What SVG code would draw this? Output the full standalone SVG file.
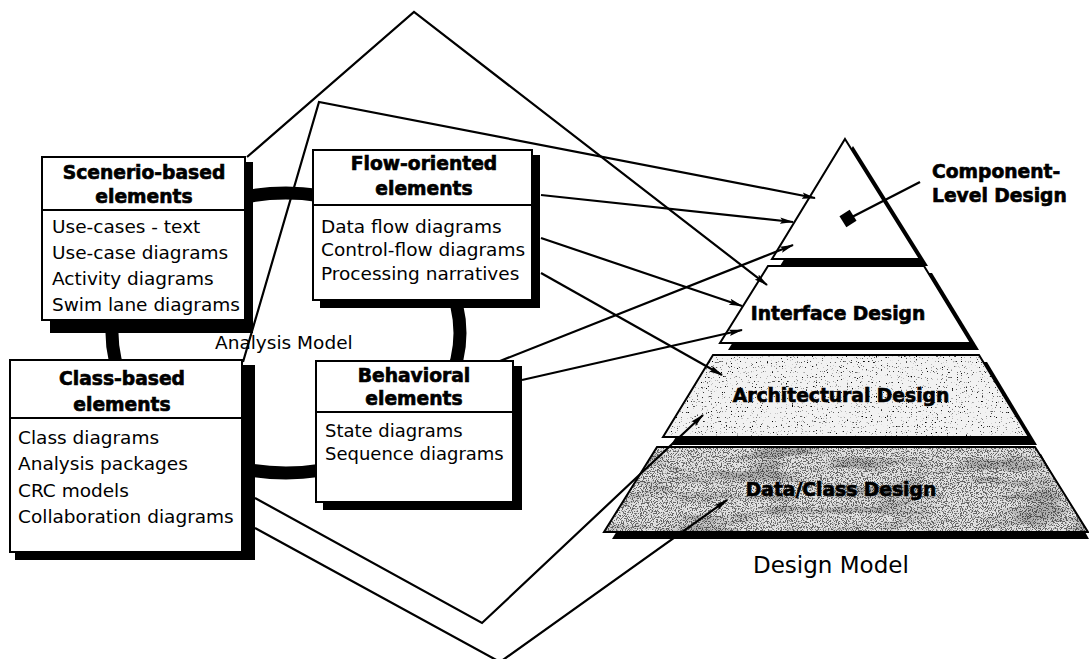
<svg xmlns="http://www.w3.org/2000/svg" width="1089" height="659" viewBox="0 0 1089 659">
  <style>
    .box { fill: #fff; stroke: #000; stroke-width: 2; }
    .shadow { fill: #000; }
    .rule { stroke: #000; stroke-width: 2; }
    .hd { font-family: "DejaVu Sans", sans-serif; font-weight: bold; font-size: 18.7px; text-anchor: middle; fill: #000; stroke: #000; stroke-width: 0.65; }
    .bd { font-family: "DejaVu Sans", sans-serif; font-size: 18.5px; fill: #000; }
    .cap { font-family: "DejaVu Sans", sans-serif; font-size: 18.5px; fill: #000; }
    .tier { stroke: #000; stroke-width: 2; }
    .edge { fill: none; stroke: #000; stroke-width: 2.2; stroke-linejoin: miter; }
    .arr { marker-end: url(#head); }
  </style>
  <defs>
    <marker id="head" markerUnits="userSpaceOnUse" markerWidth="14" markerHeight="8" refX="13" refY="4" orient="auto">
      <path d="M0,0.8 L14,4 L0,7.2 L2.5,4 z" fill="#000"/>
    </marker>
    <!-- fine grain dots, clipped to the shape they are applied to -->
    <filter id="grainDense" x="0" y="0" width="1" height="1">
      <feTurbulence type="fractalNoise" baseFrequency="0.8" numOctaves="2" seed="7" result="fine"/>
      <feColorMatrix in="fine" type="matrix" values="0 0 0 0 0  0 0 0 0 0  0 0 0 0 0  10 0 0 0 -5.0" result="dots"/>
      <feComposite in="dots" in2="SourceAlpha" operator="in"/>
    </filter>
    <!-- broad darker blotches for the bottom tier -->
    <filter id="mottle" x="0" y="0" width="1" height="1">
      <feTurbulence type="fractalNoise" baseFrequency="0.015 0.07" numOctaves="3" seed="4" result="coarse"/>
      <feColorMatrix in="coarse" type="matrix" values="0 0 0 0 0  0 0 0 0 0  0 0 0 0 0  5 0 0 0 -2.4" result="blot"/>
      <feComposite in="blot" in2="SourceAlpha" operator="in"/>
    </filter>
    <!-- light stipple for the architectural tier -->
    <filter id="grainLight" x="0" y="0" width="1" height="1">
      <feTurbulence type="fractalNoise" baseFrequency="0.8" numOctaves="1" seed="11" result="fine"/>
      <feColorMatrix in="fine" type="matrix" values="0 0 0 0 0  0 0 0 0 0  0 0 0 0 0  9 0 0 0 -5.8" result="dots"/>
      <feComposite in="dots" in2="SourceAlpha" operator="in"/>
    </filter>
  </defs>

  <rect width="1089" height="659" fill="#fff"/>

  <!-- thick ring linking the four analysis elements -->
  <g id="analysis-ring">
    <ellipse cx="286" cy="333" rx="174" ry="140" fill="none" stroke="#000" stroke-width="13"/>
  </g>

  <!-- design model pyramid -->
  <g id="node-component">
    <polygon class="shadow" points="853,146 928,266 780,266"/>
    <polygon class="tier" fill="#fff" points="845,139 920,259 772,259"/>
    <rect x="842" y="212" width="12" height="13" fill="#000" transform="rotate(-32 848 218.5)"/>
    <line x1="920" y1="182" x2="852" y2="217" stroke="#000" stroke-width="2.4"/>
    <text class="hd" style="text-anchor:start" x="932" y="178">Component-</text>
    <text class="hd" style="text-anchor:start" x="932" y="202">Level Design</text>
  </g>

  <g id="node-interface">
    <polygon class="shadow" points="776,273 932,273 979,350 728,350"/>
    <polygon class="tier" fill="#fff" points="768,266 924,266 971,343 720,343"/>
    <text class="hd" x="838" y="320">Interface Design</text>
  </g>

  <g id="node-architectural">
    <polygon class="shadow" points="721,362 987,362 1037,445 671,445"/>
    <polygon fill="#f2f2f2" points="713,355 979,355 1029,437 663,437"/>
    <polygon fill="#000" filter="url(#grainLight)" points="713,355 979,355 1029,437 663,437"/>
    <polygon class="tier" fill="none" points="713,355 979,355 1029,437 663,437"/>
    <text class="hd" x="841" y="402">Architectural Design</text>
  </g>

  <g id="node-dataclass">
    <polygon class="shadow" points="665,454 1041,454 1089,539 612,539"/>
    <polygon fill="#e2e2e2" points="657,447 1035,447 1088,532 604,532"/>
    <polygon fill="#000" opacity="0.22" filter="url(#mottle)" points="657,447 1035,447 1088,532 604,532"/>
    <polygon fill="#000" opacity="0.55" filter="url(#grainDense)" points="657,447 1035,447 1088,532 604,532"/>
    <polygon class="tier" fill="none" points="657,447 1035,447 1088,532 604,532"/>
    <text class="hd" x="841" y="496" fill="#111">Data/Class Design</text>
  </g>

  <text id="design-model-label" class="cap" style="font-size:23px" x="753" y="573">Design Model</text>

  <!-- analysis model element boxes -->
  <g id="node-scenario">
    <rect class="shadow" x="50" y="162" width="203" height="171"/>
    <rect class="box" x="42" y="157" width="203" height="163"/>
    <line class="rule" x1="42" y1="210" x2="245" y2="210"/>
    <text class="hd" x="144" y="179">Scenerio-based</text>
    <text class="hd" x="144" y="203">elements</text>
    <text class="bd" x="52" y="233">Use-cases - text</text>
    <text class="bd" x="52" y="259">Use-case diagrams</text>
    <text class="bd" x="52" y="285">Activity diagrams</text>
    <text class="bd" x="52" y="311">Swim lane diagrams</text>
  </g>

  <g id="node-flow">
    <rect class="shadow" x="320" y="155" width="220" height="153"/>
    <rect class="box" x="313" y="150" width="219" height="150"/>
    <line class="rule" x1="313" y1="205" x2="532" y2="205"/>
    <text class="hd" x="424" y="170">Flow-oriented</text>
    <text class="hd" x="424" y="195">elements</text>
    <text class="bd" x="321" y="233">Data flow diagrams</text>
    <text class="bd" x="321" y="256">Control-flow diagrams</text>
    <text class="bd" x="321" y="280">Processing narratives</text>
  </g>

  <g id="node-class">
    <rect class="shadow" x="15" y="365" width="240" height="195"/>
    <rect class="box" x="10" y="360" width="232" height="192"/>
    <line class="rule" x1="10" y1="418" x2="242" y2="418"/>
    <text class="hd" x="122" y="385">Class-based</text>
    <text class="hd" x="122" y="411">elements</text>
    <text class="bd" x="18" y="444">Class diagrams</text>
    <text class="bd" x="18" y="470">Analysis packages</text>
    <text class="bd" x="18" y="497">CRC models</text>
    <text class="bd" x="18" y="523">Collaboration diagrams</text>
  </g>

  <g id="node-behavioral">
    <rect class="shadow" x="323" y="366" width="199" height="144"/>
    <rect class="box" x="316" y="361" width="197" height="141"/>
    <line class="rule" x1="316" y1="412" x2="513" y2="412"/>
    <text class="hd" x="414" y="382">Behavioral</text>
    <text class="hd" x="414" y="405">elements</text>
    <text class="bd" style="font-size:18px" x="325" y="437">State diagrams</text>
    <text class="bd" style="font-size:18px" x="325" y="460">Sequence diagrams</text>
  </g>

  <text id="analysis-model-label" class="cap" x="215" y="349">Analysis Model</text>

  <!-- translation paths from analysis elements to design tiers -->
  <g id="connectors">
    <polyline class="edge arr" points="247,157 414,12 767,285"/>
    <polyline class="edge arr" points="243,362 319,102 815,198"/>
    <line class="edge arr" x1="541" y1="195" x2="793" y2="222"/>
    <line class="edge arr" x1="541" y1="238" x2="742" y2="306"/>
    <line class="edge arr" x1="541" y1="273" x2="722" y2="375"/>
    <line class="edge arr" x1="500" y1="361" x2="793" y2="245"/>
    <line class="edge arr" x1="522" y1="380" x2="742" y2="330"/>
    <polyline class="edge arr" points="255,498 482,623 703,415"/>
    <polyline class="edge arr" points="255,528 500,662 727,500"/>
  </g>
</svg>
